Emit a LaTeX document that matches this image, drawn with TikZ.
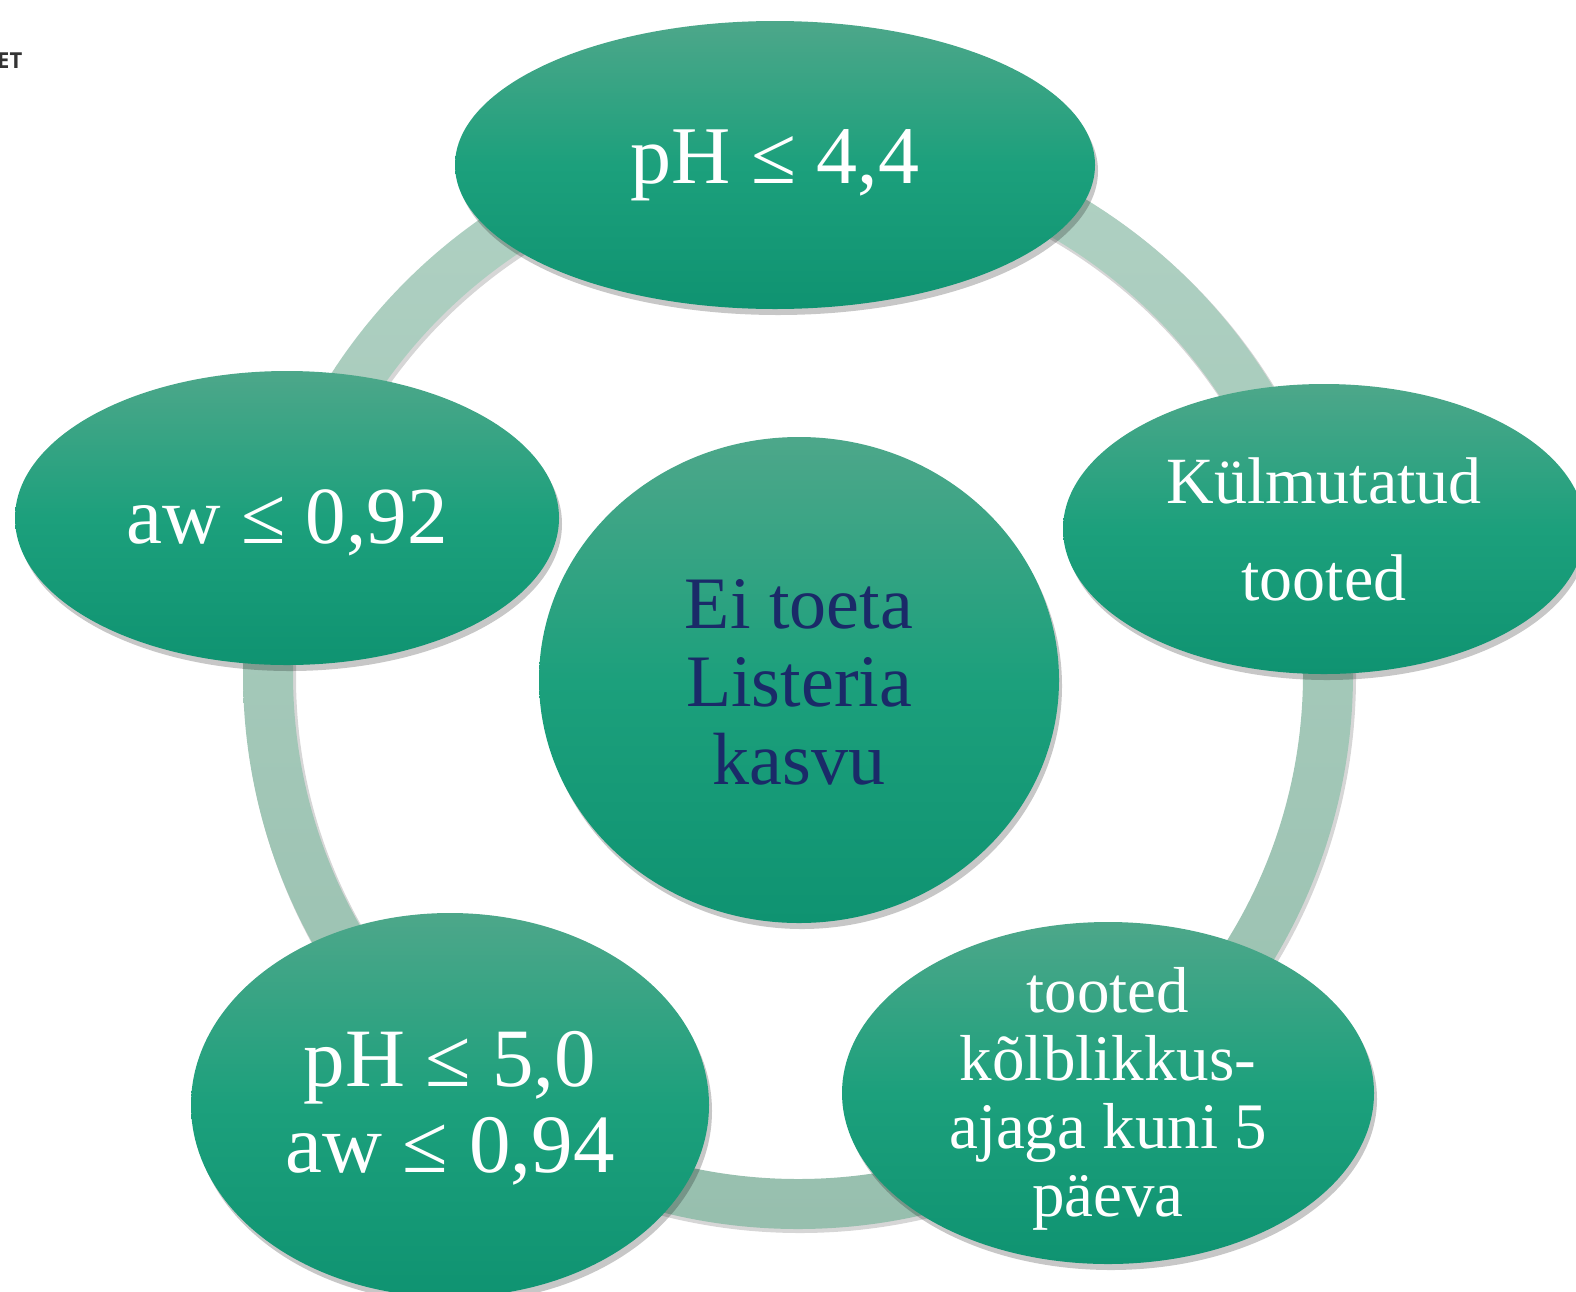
\documentclass[tikz,border=0pt]{standalone}
\usepackage{fontspec}
\setmainfont{Liberation Serif}
\newfontfamily\labelsans{Open Sans}
\usetikzlibrary{shapes.geometric,shadows}
\definecolor{bubtop}{HTML}{4DA78A}
\definecolor{bubmid}{HTML}{1CA07C}
\definecolor{bubbot}{HTML}{0F9371}
\definecolor{ringtop}{HTML}{B0D1C3}
\definecolor{ringbot}{HTML}{97BFAE}
\definecolor{navytxt}{HTML}{1A2A68}
\definecolor{etgray}{HTML}{333333}
\tikzset{
  bubble/.style={ellipse, inner sep=0pt, draw=none,
    top color=bubtop, bottom color=bubbot, middle color=bubmid,
    drop shadow={shadow xshift=3pt, shadow yshift=-6pt, opacity=0.22, fill=black}},
  bubtext/.style={text=white, align=center, inner sep=0pt},
  centertext/.style={text=navytxt, align=center, inner sep=0pt},
  ringshade/.style={top color=ringtop, bottom color=ringbot, even odd rule},
  ringshadow/.style={fill=black, opacity=0.16, even odd rule}
}
\begin{document}
\begin{tikzpicture}[x=1pt,y=-1pt]
\useasboundingbox (0,0) rectangle (1576,1291);
\begin{scope}
\clip (0,0) rectangle (1576,1291);
% ring
\coordinate (ringc) at (798,674);
\coordinate (ringsh) at (800,677);
\path[ringshadow] (ringsh) circle[radius=556] (ringsh) circle[radius=504];
\path[ringshade] (ringc) circle[radius=555] (ringc) circle[radius=505];
% center circle
\node[bubble, minimum width=520pt, minimum height=486pt] (core) at (799,680) {};
\node[centertext, font=\fontsize{74}{78}\selectfont] (coretxt) at ([yshift=-2pt]core.center) {Ei toeta\\Listeria\\kasvu};
% top
\node[bubble, minimum width=640pt, minimum height=288pt] (top) at (775,165) {};
\node[bubtext, font=\fontsize{82}{86}\selectfont] (toptxt) at (top.center) {pH ≤ 4,4};
% left
\node[bubble, minimum width=544pt, minimum height=294pt] (left) at (287,518) {};
\node[bubtext, font=\fontsize{81}{86}\selectfont] (lefttxt) at ([yshift=-5pt]left.center) {aw ≤ 0,92};
% right
\node[bubble, minimum width=522pt, minimum height=290pt] (right) at (1324,529) {};
\node[bubtext, font=\fontsize{66}{97}\selectfont] (righttxt) at (right.center) {Külmutatud\\tooted};
% bottom right
\node[bubble, minimum width=532pt, minimum height=342pt] (br) at (1108,1093) {};
\node[bubtext, font=\fontsize{65}{68}\selectfont] (brtxt) at ([yshift=-6pt]br.center) {tooted\\kõlblikkus-\\ajaga kuni 5\\päeva};
% bottom left
\node[bubble, minimum width=518pt, minimum height=384pt] (bl) at (450,1105) {};
\node[bubtext, font=\fontsize{83}{86}\selectfont] (bltxt) at ([yshift=-3pt]bl.center) {pH ≤ 5,0\\aw ≤ 0,94};
% corner label
\node[anchor=base west, inner sep=0pt, text=etgray, font=\labelsans\bfseries\fontsize{22}{24}\selectfont] (corner) at (-3,68) {ET};
\end{scope}
\end{tikzpicture}
\end{document}
